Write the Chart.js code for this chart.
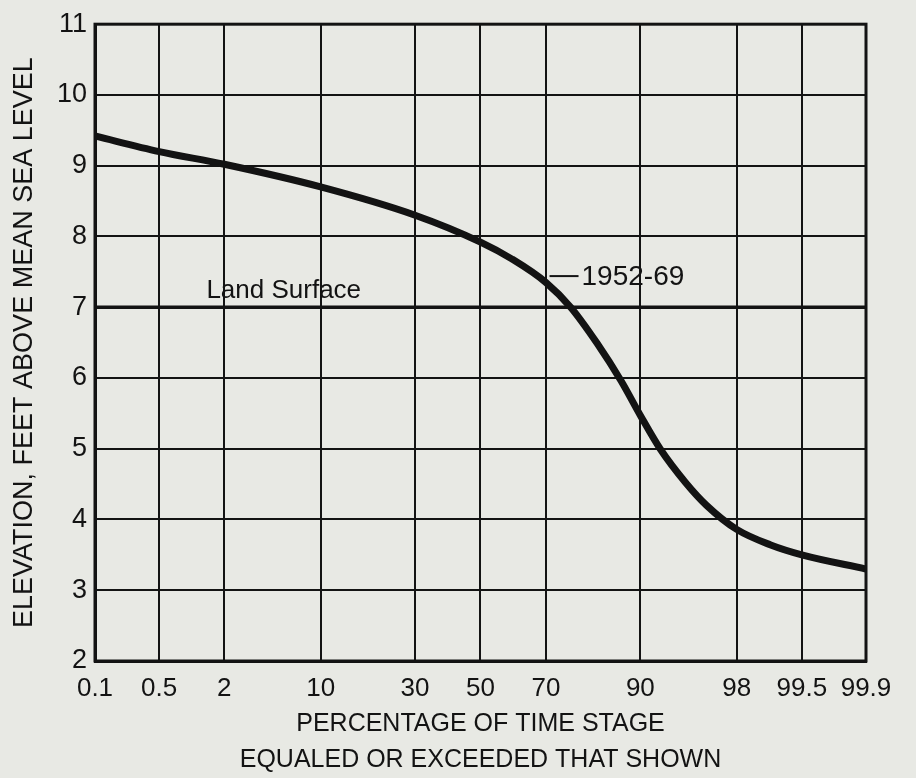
<!DOCTYPE html>
<html>
<head>
<meta charset="utf-8">
<script src="https://cdn.jsdelivr.net/npm/chart.js@4.4.1/dist/chart.umd.min.js"></script>
<style>
  html, body { margin: 0; padding: 0; background: #e8e9e4; }
  #wrap { width: 916px; height: 778px; }
</style>
</head>
<body>
<div id="wrap"><canvas id="chart" width="916" height="778"></canvas></div>
<script>
// probability axis: percent of time stage equaled or exceeded
const tickPercents = [0.1, 0.5, 2, 10, 30, 50, 70, 90, 98, 99.5, 99.9];
const tickLabels = ['0.1', '0.5', '2', '10', '30', '50', '70', '90', '98', '99.5', '99.9'];
const elevationTicks = [2, 3, 4, 5, 6, 7, 8, 9, 10, 11];

// stage-duration curve, 1952-69
const curvePercents = [0.1, 0.5, 2, 10, 30, 50, 60, 70, 76.5, 82.5, 87, 90, 92.5, 95, 96.5, 98, 99, 99.5, 99.9];
const curveElevation = [9.42, 9.2, 9.02, 8.7, 8.3, 7.92, 7.68, 7.35, 7.0, 6.49, 5.96, 5.47, 5.0, 4.52, 4.2, 3.86, 3.64, 3.5, 3.3];

const landSurface = 7;

const INK = '#131313';
const FONT = "'Liberation Sans', Arial, sans-serif";

// inverse normal cdf (Acklam)
function probit(p) {
    const a = [-39.69683028665376, 220.9460984245205, -275.9285104469687, 138.3577518672690, -30.66479806614716, 2.506628277459239];
    const b = [-54.47609879822406, 161.5858368580409, -155.6989798598866, 66.80131188771972, -13.28068155288572];
    const c = [-0.007784894002430293, -0.3223964580411365, -2.400758277161838, -2.549732539343734, 4.374664141464968, 2.938163982698783];
    const d = [0.007784695709041462, 0.3224671290700398, 2.445134137142996, 3.754408661907416];
    const lo = 0.02425;
    let q, r;
    if (p < lo) {
        q = Math.sqrt(-2 * Math.log(p));
        return (((((c[0] * q + c[1]) * q + c[2]) * q + c[3]) * q + c[4]) * q + c[5]) /
            ((((d[0] * q + d[1]) * q + d[2]) * q + d[3]) * q + 1);
    }
    if (p > 1 - lo) {
        q = Math.sqrt(-2 * Math.log(1 - p));
        return -(((((c[0] * q + c[1]) * q + c[2]) * q + c[3]) * q + c[4]) * q + c[5]) /
            ((((d[0] * q + d[1]) * q + d[2]) * q + d[3]) * q + 1);
    }
    q = p - 0.5;
    r = q * q;
    return (((((a[0] * r + a[1]) * r + a[2]) * r + a[3]) * r + a[4]) * r + a[5]) * q /
        (((((b[0] * r + b[1]) * r + b[2]) * r + b[3]) * r + b[4]) * r + 1);
}

const toZ = (pct) => probit(pct / 100);
const xMin = toZ(tickPercents[0]);
const xMax = toZ(tickPercents[tickPercents.length - 1]);

const frameAndNotes = {
    id: 'frameAndNotes',
    afterDatasetsDraw(chart) {
        const ctx = chart.ctx;
        const area = chart.chartArea;
        const xs = chart.scales.x;
        const ys = chart.scales.y;
        ctx.save();
        ctx.strokeStyle = INK;
        ctx.lineWidth = 3;
        ctx.strokeRect(area.left, area.top, area.right - area.left, area.bottom - area.top);

        ctx.fillStyle = INK;
        ctx.textBaseline = 'alphabetic';
        ctx.textAlign = 'left';
        ctx.font = "26px " + FONT;
        ctx.fillText('Land Surface', xs.getPixelForValue(toZ(1.4)), ys.getPixelForValue(landSurface) - 9);

        // leader to the curve label
        const ly = ys.getPixelForValue(7.44);
        const lx = xs.getPixelForValue(toZ(71));
        ctx.lineWidth = 2;
        ctx.beginPath();
        ctx.moveTo(lx, ly);
        ctx.lineTo(lx + 29, ly);
        ctx.stroke();
        ctx.font = "28px " + FONT;
        ctx.textBaseline = 'middle';
        ctx.fillText('1952-69', lx + 32, ly + 1);
        ctx.restore();
    }
};

new Chart(document.getElementById('chart').getContext('2d'), {
    type: 'scatter',
    data: {
        datasets: [
            {
                label: 'Land Surface',
                data: [
                    { x: xMin, y: landSurface },
                    { x: xMax, y: landSurface }
                ],
                showLine: true,
                borderColor: INK,
                borderWidth: 3.5,
                pointRadius: 0,
                order: 2
            },
            {
                label: '1952-69',
                data: curvePercents.map((p, i) => ({ x: toZ(p), y: curveElevation[i] })),
                showLine: true,
                borderColor: INK,
                borderWidth: 7,
                cubicInterpolationMode: 'monotone',
                pointRadius: 0,
                order: 1
            }
        ]
    },
    options: {
        responsive: false,
        animation: false,
        devicePixelRatio: 1,
        layout: { padding: { top: 22, right: 50, left: 0, bottom: 0 } },
        plugins: {
            legend: { display: false },
            tooltip: { enabled: false }
        },
        scales: {
            x: {
                type: 'linear',
                min: xMin,
                max: xMax,
                afterBuildTicks(scale) {
                    scale.ticks = tickPercents.map(p => ({ value: toZ(p) }));
                },
                afterFit(scale) {
                    scale.height = 117;
                },
                grid: { color: INK, lineWidth: 2, drawTicks: false },
                border: { color: INK, width: 3 },
                ticks: {
                    color: INK,
                    padding: 12,
                    autoSkip: false,
                    maxRotation: 0,
                    font: { family: FONT, size: 26 },
                    callback: (v, i) => tickLabels[i]
                },
                title: {
                    display: true,
                    text: ['PERCENTAGE OF TIME STAGE', 'EQUALED OR EXCEEDED THAT SHOWN'],
                    color: INK,
                    padding: { top: 0, bottom: 0 },
                    font: { family: FONT, size: 25, lineHeight: 1.44 }
                }
            },
            y: {
                type: 'linear',
                min: elevationTicks[0],
                max: elevationTicks[elevationTicks.length - 1],
                afterBuildTicks(scale) {
                    scale.ticks = elevationTicks.map(v => ({ value: v }));
                },
                afterFit(scale) {
                    scale.width = 95;
                },
                grid: { color: INK, lineWidth: 2, drawTicks: false },
                border: { color: INK, width: 3 },
                ticks: {
                    color: INK,
                    padding: 8,
                    font: { family: FONT, size: 27 }
                },
                title: {
                    display: true,
                    text: 'ELEVATION, FEET ABOVE MEAN SEA LEVEL',
                    color: INK,
                    padding: { top: 8, bottom: 0 },
                    font: { family: FONT, size: 27, lineHeight: 1.2 }
                }
            }
        }
    },
    plugins: [frameAndNotes]
});
</script>
</body>
</html>
